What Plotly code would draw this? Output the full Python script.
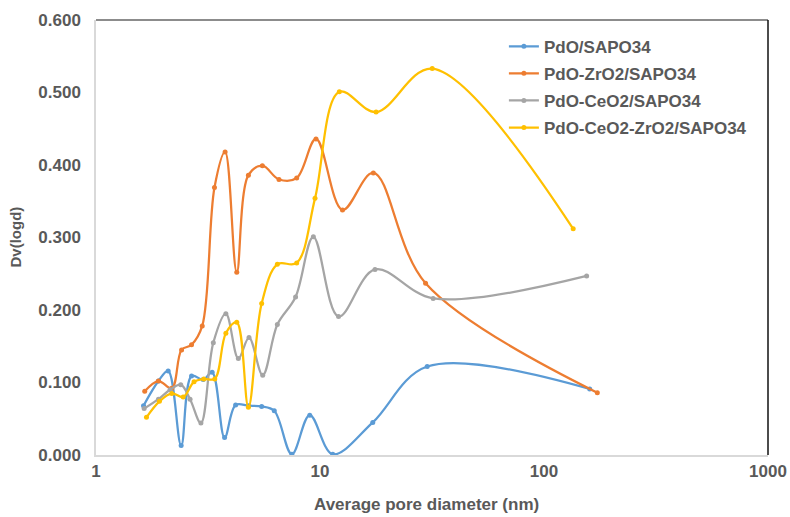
import plotly.graph_objects as go

# Data
series_names = ["PdO/SAPO34", "PdO-ZrO2/SAPO34", "PdO-CeO2/SAPO34", "PdO-CeO2-ZrO2/SAPO34"]
series_colors = ["#5B9BD5", "#ED7D31", "#A5A5A5", "#FFC000"]

pdo_x = [1.63, 1.90, 2.10, 2.40, 2.67, 3.01, 3.30, 3.75, 4.20, 4.80, 5.49, 6.25, 7.49, 9.0, 11.4, 17.2, 30.1, 160]
pdo_y = [0.068, 0.102, 0.116, 0.013, 0.109, 0.104, 0.114, 0.024, 0.069, 0.068, 0.067, 0.061, 0.001, 0.055, 0.001, 0.045, 0.122, 0.091]

zr_x = [1.65, 1.90, 2.18, 2.41, 2.67, 2.98, 3.38, 3.77, 4.25, 4.79, 5.53, 6.56, 7.87, 9.6, 12.6, 17.3, 29.6, 173]
zr_y = [0.088, 0.102, 0.092, 0.145, 0.152, 0.178, 0.369, 0.418, 0.252, 0.386, 0.399, 0.380, 0.382, 0.436, 0.338, 0.389, 0.237, 0.086]

ce_x = [1.64, 1.90, 2.14, 2.39, 2.63, 2.94, 3.34, 3.80, 4.32, 4.82, 5.55, 6.45, 7.78, 9.34, 12.1, 17.6, 32.0, 155]
ce_y = [0.064, 0.077, 0.090, 0.097, 0.077, 0.044, 0.155, 0.195, 0.133, 0.162, 0.110, 0.180, 0.218, 0.301, 0.191, 0.256, 0.216, 0.247]

cezr_x = [1.68, 1.92, 2.18, 2.45, 2.74, 3.03, 3.39, 3.80, 4.25, 4.79, 5.49, 6.45, 7.87, 9.5, 12.2, 17.8, 31.7, 135]
cezr_y = [0.052, 0.074, 0.085, 0.080, 0.101, 0.105, 0.105, 0.168, 0.183, 0.066, 0.209, 0.263, 0.265, 0.354, 0.501, 0.473, 0.533, 0.312]

x_tickvals = [1, 10, 100, 1000]
x_ticktext = ["1", "10", "100", "1000"]
y_tickvals = [0.0, 0.1, 0.2, 0.3, 0.4, 0.5, 0.6]
x_title = "Average pore diameter (nm)"
y_title = "Dv(logd)"

FONT = "Liberation Sans, Arial, sans-serif"
TXT = "#595959"

fig = go.Figure()
all_x = [pdo_x, zr_x, ce_x, cezr_x]
all_y = [pdo_y, zr_y, ce_y, cezr_y]
for i, (name, color, xs, ys) in enumerate(zip(series_names, series_colors, all_x, all_y)):
    fig.add_trace(go.Scatter(
        x=xs, y=ys, name=name, mode="lines+markers",
        line=dict(color=color, width=2.25, shape="spline", smoothing=1.0),
        marker=dict(color=color, size=5),
        legendgroup=f"g{i}",
    ))

fig.update_layout(
    width=790, height=517,
    margin=dict(l=96, r=22, t=20, b=62, autoexpand=False),
    paper_bgcolor="white", plot_bgcolor="white",
    font=dict(family=FONT, size=17, color=TXT),
    showlegend=True,
    legend=dict(
        x=0.607, y=0.98, xanchor="left", yanchor="top",
        bgcolor="rgba(0,0,0,0)", borderwidth=0,
        font=dict(family=FONT, size=17, color=TXT, weight="bold"),
        tracegroupgap=2,
        itemwidth=30,
    ),
    xaxis=dict(
        type="log", range=[0, 3],
        tickvals=x_tickvals, ticktext=x_ticktext,
        showgrid=False, zeroline=False, automargin=False,
        showline=True, linecolor="#D9D9D9", linewidth=1.5,
        ticks="", tickfont=dict(family=FONT, size=17, color=TXT, weight="bold"),
    ),
    yaxis=dict(
        range=[0, 0.6], tickvals=y_tickvals, tickformat=".3f",
        showgrid=False, zeroline=False, automargin=False,
        showline=True, linecolor="#D9D9D9", linewidth=1.5,
        ticks="", ticklabelstandoff=10,
        tickfont=dict(family=FONT, size=17, color=TXT, weight="bold"),
    ),
    annotations=[
        dict(text=f"<b>{x_title}</b>", xref="paper", yref="paper", x=0.492, y=0,
             xanchor="center", yanchor="middle", yshift=-49, showarrow=False,
             font=dict(family=FONT, size=17, color=TXT)),
        dict(text=f"<b>{y_title}</b>", xref="paper", yref="paper", x=0, y=0.5,
             xanchor="center", yanchor="middle", xshift=-81, showarrow=False, textangle=-90,
             font=dict(family=FONT, size=15, color=TXT)),
    ],
)

# top and right frame lines
fig.add_shape(type="line", xref="paper", yref="paper", x0=0, x1=1, y0=1, y1=1,
              line=dict(color="#666666", width=1.5))
fig.add_shape(type="line", xref="paper", yref="paper", x0=1, x1=1, y0=0, y1=1,
              line=dict(color="#111111", width=1.5))

fig.write_html("out.html")
